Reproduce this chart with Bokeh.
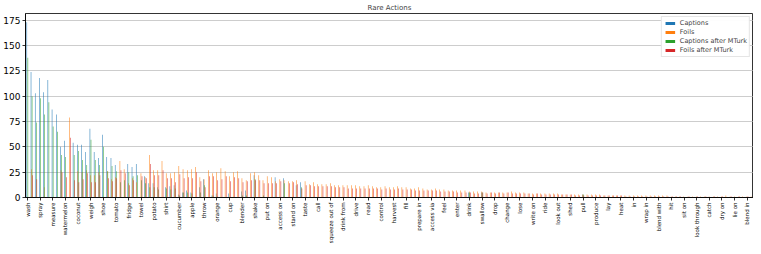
import math
from bokeh.plotting import figure
from bokeh.models import ColumnDataSource, Range1d, FixedTicker, Legend, LegendItem
from bokeh.transform import dodge
from bokeh.embed import file_html
from bokeh.resources import INLINE

tick_labels = ["wash", "spray", "measure", "watermelon", "coconut", "weigh", "shoe", "tomato",
               "fridge", "towel", "potato", "shirt", "cucumber", "apple", "throw", "orange", "cup",
               "blender", "shake", "put on", "access on", "stand on", "taste", "call",
               "squeeze out of", "drink from", "drive", "read", "control", "harvest", "fill",
               "prepare in", "access via", "feel", "enter", "drink", "swallow", "drop", "change",
               "lose", "write on", "ride", "look out", "shed", "pull", "produce", "lay", "heat",
               "in", "wrap in", "blend with", "hit", "sit on", "look through", "catch", "dry on",
               "lie on", "blend in"]

captions = [173, 124, 103, 118, 104, 116, 87, 82, 50, 56,
            0, 54, 52, 52, 45, 68, 45, 39, 62, 40,
            39, 32, 0, 0, 33, 30, 33, 0, 21, 14,
            14, 10, 0, 10, 11, 12, 3, 5, 7, 5,
            0, 10, 18, 0, 2, 4, 0, 0, 4, 0,
            0, 6, 7, 0, 22, 0, 0, 0, 0, 20,
            0, 19, 0, 0, 12, 15, 0, 0, 0, 0,
            0, 0, 0, 0, 0, 0, 0, 0, 0, 0,
            0, 0, 0, 0, 0, 0, 0, 0, 0, 0,
            0, 0, 0, 0, 0, 0, 0, 0, 0, 0,
            0, 0, 0, 0, 0, 5, 0, 0, 5, 0,
            0, 0, 0, 0, 0, 0, 0, 0, 0, 0,
            0, 0, 0, 0, 0, 0, 0, 0, 0, 0,
            0, 0, 3, 0, 0, 0, 0, 0, 0, 0,
            0, 0, 0, 0, 0, 0, 0, 0, 0, 0,
            0, 0, 0, 0, 0, 0, 0, 0, 0, 0,
            0, 0, 0, 0, 0, 0, 0, 0, 0, 0,
            0, 0, 0]

foils = [0, 28, 0, 0, 10, 0, 0, 0, 27, 0,
         79, 0, 26, 25, 27, 22, 22, 25, 0, 26,
         18, 20, 36, 28, 14, 19, 15, 24, 20, 42,
         27, 27, 36, 24, 24, 25, 31, 28, 27, 28,
         30, 20, 18, 27, 24, 25, 29, 26, 21, 25,
         26, 19, 17, 24, 25, 22, 17, 21, 20, 16,
         18, 17, 16, 16, 17, 0, 16, 13, 15, 13,
         13, 13, 14, 12, 12, 12, 12, 12, 12, 11,
         11, 12, 11, 10, 10, 11, 10, 10, 11, 10,
         10, 9, 9, 10, 9, 8, 8, 9, 8, 8,
         7, 7, 7, 7, 7, 6, 6, 6, 6, 5,
         5, 5, 5, 5, 5, 6, 5, 5, 5, 4,
         4, 4, 4, 4, 4, 4, 4, 3, 3, 3,
         3, 3, 3, 3, 3, 3, 3, 2, 2, 2,
         2, 2, 2, 2, 2, 2, 2, 2, 2, 2,
         2, 2, 2, 1, 1, 1, 1, 1, 1, 1,
         1, 1, 1, 1, 1, 1, 2, 1, 1, 1,
         1, 1, 1]

captions_mturk = [138, 100, 74, 98, 82, 94, 70, 65, 42, 40,
                  0, 42, 46, 37, 32, 57, 37, 32, 50, 26,
                  31, 26, 15, 17, 25, 21, 22, 17, 14, 10,
                  10, 8, 0, 9, 8, 9, 2, 5, 5, 4,
                  0, 5, 12, 0, 2, 1, 0, 0, 0, 0,
                  0, 2, 2, 0, 18, 0, 2, 0, 0, 0,
                  0, 14, 0, 0, 0, 10, 0, 0, 0, 0,
                  0, 0, 0, 0, 0, 0, 0, 0, 0, 0,
                  0, 0, 0, 0, 0, 0, 0, 0, 0, 0,
                  0, 0, 0, 0, 0, 0, 0, 0, 0, 0,
                  0, 0, 0, 0, 0, 5, 0, 0, 5, 0,
                  0, 0, 0, 0, 0, 0, 0, 0, 0, 0,
                  0, 0, 0, 0, 0, 0, 0, 0, 0, 0,
                  0, 0, 3, 0, 0, 0, 0, 0, 0, 0,
                  0, 0, 0, 0, 0, 0, 0, 0, 0, 0,
                  0, 0, 0, 0, 0, 0, 0, 0, 0, 0,
                  0, 0, 0, 0, 0, 0, 0, 0, 0, 0,
                  0, 0, 0]

foils_mturk = [0, 22, 18, 0, 0, 0, 0, 0, 25, 20,
               59, 17, 15, 18, 24, 15, 15, 22, 0, 19,
               16, 19, 27, 24, 12, 17, 0, 21, 19, 33,
               22, 22, 27, 19, 19, 15, 23, 19, 20, 19,
               25, 16, 10, 21, 21, 17, 18, 21, 16, 20,
               19, 15, 16, 17, 17, 17, 14, 14, 14, 14,
               16, 0, 14, 15, 13, 9, 12, 12, 11, 11,
               11, 11, 11, 10, 10, 10, 9, 9, 9, 9,
               9, 9, 9, 9, 8, 9, 8, 8, 9, 8,
               8, 8, 7, 7, 7, 7, 7, 7, 6, 6,
               6, 6, 5, 5, 5, 5, 4, 4, 5, 4,
               5, 4, 5, 4, 5, 4, 4, 4, 4, 4,
               3, 4, 3, 3, 3, 3, 3, 3, 3, 3,
               2, 2, 2, 2, 2, 2, 2, 2, 2, 2,
               2, 2, 1, 1, 1, 1, 1, 1, 1, 1,
               1, 1, 1, 1, 1, 1, 0, 1, 0, 1,
               0, 1, 0, 1, 0, 1, 0, 1, 0, 1,
               0, 1, 0]

n = len(captions)
idx = list(range(n))
source = ColumnDataSource(dict(x=idx, c=captions, f=foils, cm=captions_mturk, fm=foils_mturk))

FONT = "DejaVu Sans"
p = figure(width=753, height=246, output_backend="svg", toolbar_location=None,
           x_range=Range1d(-0.5, n - 0.5), y_range=Range1d(0, 181.7),
           min_border=0, min_border_left=19, min_border_right=0, min_border_top=0,
           min_border_bottom=0, title="Rare Actions")
p.title.align = "center"
p.title.text_font = FONT
p.title.text_font_size = "7px"
p.title.text_font_style = "normal"
p.title.standoff = 3
p.title.offset = 0

series = [("c", "Captions", "#1f77b4", -0.1875),
          ("f", "Foils", "#ff7f0e", -0.0625),
          ("cm", "Captions after MTurk", "#2ca02c", 0.0625),
          ("fm", "Foils after MTurk", "#d62728", 0.1875)]
items = []
for col, name, color, off in series:
    r = p.vbar(x=dodge("x", off, range=p.x_range), top=col, width=0.125, source=source,
               fill_color=color, line_color=None)
    items.append(LegendItem(label=name, renderers=[r]))

legend = Legend(items=items, location="top_right")
legend.label_text_font = FONT
legend.label_text_font_size = "6.5px"
legend.label_height = 5
legend.glyph_height = 4
legend.glyph_width = 12
legend.spacing = 1
legend.padding = 2
legend.margin = 3
legend.label_standoff = 4
legend.border_line_color = "#cccccc"
legend.border_line_width = 0.8
p.add_layout(legend)

p.xaxis.ticker = FixedTicker(ticks=idx[::3])
p.xaxis.major_label_overrides = {i * 3: lab for i, lab in enumerate(tick_labels)}
p.xaxis.major_label_orientation = math.pi / 2
p.xaxis.major_label_text_font = FONT
p.xaxis.major_label_text_font_size = "5.5px"
p.xaxis.major_label_standoff = 2
p.xaxis.minor_tick_line_color = None
p.xaxis.major_tick_out = 3
p.xaxis.major_tick_in = 0

p.yaxis.ticker = FixedTicker(ticks=[0, 25, 50, 75, 100, 125, 150, 175])
p.yaxis.major_label_text_font = FONT
p.yaxis.major_label_text_font_size = "9px"
p.yaxis.major_label_standoff = 2
p.yaxis.minor_tick_line_color = None
p.yaxis.major_tick_out = 3
p.yaxis.major_tick_in = 0

for ax in (p.xaxis, p.yaxis):
    ax.axis_line_color = "black"
    ax.axis_line_width = 0.8
    ax.major_tick_line_color = "black"
    ax.major_tick_line_width = 0.8
    ax.major_label_text_color = "black"

p.xgrid.grid_line_color = None
p.ygrid.grid_line_color = "#b0b0b0"
p.ygrid.grid_line_width = 0.8
p.ygrid.grid_line_alpha = 0.8
p.outline_line_color = "black"
p.outline_line_width = 0.8
p.outline_line_alpha = 1.0
p.background_fill_color = "white"
p.border_fill_color = "white"

open("out.html", "w").write(file_html(p, INLINE))
